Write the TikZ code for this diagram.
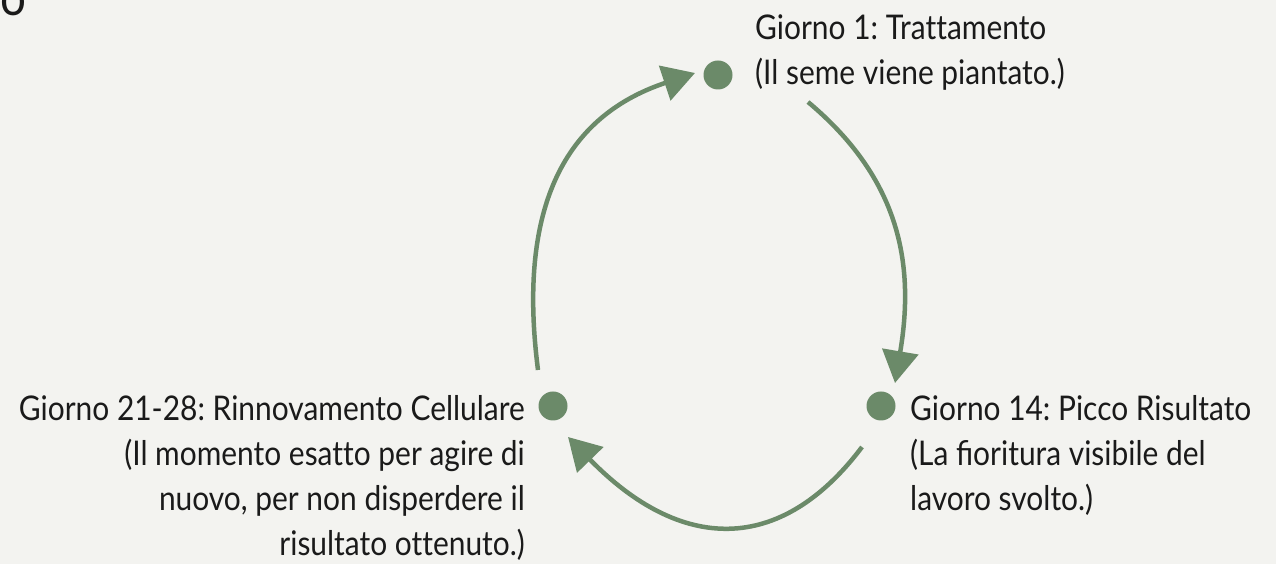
\documentclass[tikz,border=0pt]{standalone}
\usepackage{fontspec}
\setmainfont{Lato}[FakeStretch=0.88]
\usetikzlibrary{calc,arrows.meta,positioning}
\frenchspacing

\definecolor{sage}{HTML}{6B8A69}
\definecolor{paper}{HTML}{F3F3F0}
\definecolor{ink}{HTML}{1A1A1A}

\tikzset{
    dot/.style={circle,fill=sage,inner sep=0pt,minimum size=29pt},
    lab/.style={text=ink,font=\fontsize{34}{45}\selectfont,inner sep=0pt},
    flow/.style={draw=sage,line width=4.5pt,-{Triangle[length=32pt,width=36pt]}}
}

\begin{document}
\begin{tikzpicture}[x=1pt,y=1pt]
        \fill[paper] (0,0) rectangle (1276,564);
        \useasboundingbox (0,0) rectangle (1276,564);
        % cut-off title
        \node[lab,font=\fontsize{52}{52}\selectfont,anchor=base east] (title) at (27,548) {to};

        \node[dot] (top) at (718,489) {};
        \node[dot] (left) at (553,158) {};
        \node[dot] (right) at (881,158) {};

        \node[lab,anchor=west,align=left] (toplab) at (755,511) {Giorno 1: Trat\kern0pt tamento\\(Il seme viene piantato.)};
        \node[lab,anchor=west,align=left] (rightlab) at (910,109) {Giorno 14: Picco Risultato\\(La fioritura visibile del\\lavoro svolto.)};
        \node[lab,anchor=east,align=right] (leftlab) at (525,86) {Giorno 21-28: Rinnovamento Cellulare\\(Il momento esat\kern0pt to per agire di\\nuovo, per non disperdere il\\risultato ot\kern0pt tenuto.)};

        \coordinate (a1s) at (538,194);
        \coordinate (a1e) at (695,491);
        \coordinate (a2s) at (808,462);
        \coordinate (a2e) at (895,181);
        \coordinate (a3s) at (862,117);
        \coordinate (a3e) at (568,127);

        \draw[flow] (a1s) .. controls (518,350) and (560,446) .. (a1e);
        \draw[flow] (a2s) .. controls (900,385) and (915,300) .. (a2e);
        \draw[flow] (a3s) .. controls (780,8) and (680,12) .. (a3e);
    \end{tikzpicture}
\end{document}
